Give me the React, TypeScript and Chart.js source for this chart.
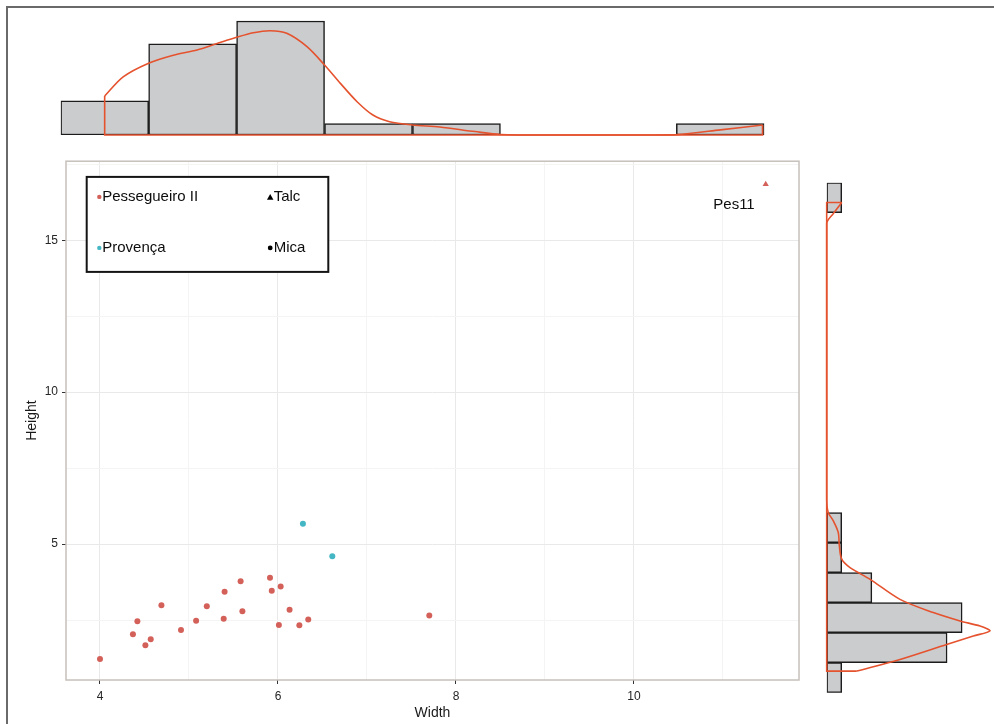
import React, { useEffect, useRef } from 'react';
import { Chart, registerables } from 'chart.js';

Chart.register(...registerables);

// ---------------- data ----------------
// Scatter: Pessegueiro II samples (mica, circles)
const PES_MICA_WIDTH = [4.0, 4.37, 4.42, 4.51, 4.57, 4.69, 4.91, 5.08, 5.2, 5.39, 5.4, 5.58, 5.6, 5.91, 5.93, 6.03, 6.01, 6.13, 6.24, 6.34, 7.7];
const PES_MICA_HEIGHT = [1.22, 2.03, 2.46, 1.67, 1.87, 2.99, 2.17, 2.48, 2.95, 2.54, 3.43, 3.78, 2.79, 3.89, 3.46, 3.6, 2.34, 2.84, 2.33, 2.52, 2.65];
// Provença samples (mica, circles)
const PROV_MICA_WIDTH = [6.28, 6.61];
const PROV_MICA_HEIGHT = [5.67, 4.6];
// Pessegueiro II talc sample (triangle) with label
const PES_TALC_WIDTH = [11.48];
const PES_TALC_HEIGHT = [16.84];
const PES_TALC_LABELS = ['Pes11'];

// Axis ticks
const X_MAJOR = [4, 6, 8, 10];
const X_MINOR = [5, 7, 9, 11];
const Y_MAJOR = [5, 10, 15];
const Y_MINOR = [2.5, 7.5, 12.5, 17.5];
const X_RANGE = [3.618, 11.854];
const Y_RANGE = [0.526, 17.6];

// Top marginal histogram of Width (bin centers, width 1) and density curve (in count units)
const WIDTH_BIN_CENTERS = [4, 5, 6, 7, 8, 11];
const WIDTH_BIN_COUNTS = [3, 8, 10, 1, 1, 1];
const WIDTH_HIST_RANGE = [3.5, 11.5];
const WIDTH_COUNT_MAX = 11;
const DENS_TOP_X = [4.0, 4.21, 4.5, 4.78, 5.05, 5.27, 5.5, 5.69, 5.88, 6.07, 6.3, 6.5, 6.68, 6.87, 7.05, 7.24, 7.5, 7.81, 8.21, 8.5, 9.06, 10.2, 10.5, 11.0, 11.48];
const DENS_TOP_Y = [3.42, 5.1, 6.3, 7.0, 7.46, 8.0, 8.57, 8.97, 9.15, 8.92, 7.75, 6.14, 4.53, 2.92, 1.75, 1.17, 0.88, 0.7, 0.3, 0.05, 0, 0, 0.03, 0.45, 0.88];

// Right marginal histogram of Height and density curve
const HEIGHT_BIN_CENTERS = [1, 2, 3, 4, 5, 6, 17];
const HEIGHT_BIN_COUNTS = [1, 8, 9, 3, 1, 1, 1];
const HEIGHT_HIST_RANGE = [0.5, 17.5];
const HEIGHT_COUNT_MAX = 11;
const DENS_RIGHT_Y = [1.22, 1.61, 2.11, 2.39, 2.56, 2.72, 2.89, 3.17, 3.61, 4.28, 4.67, 4.95, 5.4, 5.84, 6.23, 6.51, 6.95, 16.14, 16.47, 16.84];
const DENS_RIGHT_W = [2.0, 4.87, 7.97, 9.74, 10.85, 10.19, 8.86, 7.08, 4.87, 2.88, 1.55, 1.0, 0.84, 0.77, 0.44, 0.1, 0, 0, 0.44, 1.0];

// ---------------- styles ----------------
const FONT = "'Liberation Sans', Arial, Helvetica, sans-serif";
const RED = '#d4605a';
const CYAN = '#45b6c4';
const DENS = '#e5522e';
const HIST_FILL = '#cbccce';
const HIST_EDGE = '#1c1c1c';
const GRID_MAJOR = '#e9e9e9';
const GRID_MINOR = '#f4f4f4';
const PANEL_BORDER = '#c6c0ba';
const TICK_TEXT = '#262626';
const TITLE_TEXT = '#1a1a1a';

Chart.defaults.font.family = FONT;

const drawTriangle = (ctx: CanvasRenderingContext2D, x: number, y: number, r: number) => {
  ctx.beginPath();
  ctx.moveTo(x, y - r);
  ctx.lineTo(x + r * 0.95, y + r * 0.7);
  ctx.lineTo(x - r * 0.95, y + r * 0.7);
  ctx.closePath();
  ctx.fill();
};

const panelPlugin = {
  id: 'panelDecor',
  afterDatasetsDraw(chart: any) {
    const { ctx, chartArea: a } = chart;
    ctx.save();
    // panel border
    ctx.strokeStyle = PANEL_BORDER;
    ctx.lineWidth = 1.5;
    ctx.strokeRect(a.left, a.top, a.right - a.left, a.bottom - a.top);

    // point label
    const meta = chart.getDatasetMeta(2);
    meta.data.forEach((el: any, i: number) => {
      ctx.fillStyle = '#0d0d0d';
      ctx.font = `15px ${FONT}`;
      ctx.textAlign = 'right';
      ctx.textBaseline = 'middle';
      ctx.fillText(PES_TALC_LABELS[i], el.x - 11, el.y + 21);
    });

    // legend box
    const bx = a.left + 20.7;
    const by = a.top + 15.7;
    const bw = 241.6;
    const bh = 95;
    ctx.fillStyle = '#ffffff';
    ctx.fillRect(bx, by, bw, bh);
    ctx.strokeStyle = '#141414';
    ctx.lineWidth = 2;
    ctx.strokeRect(bx, by, bw, bh);

    const row1 = by + 20;
    const row2 = by + 71;
    const c1m = bx + 12.6;
    const c1t = bx + 15.5;
    const c2m = bx + 183.5;
    const c2t = bx + 187;
    ctx.font = `15px ${FONT}`;
    ctx.textAlign = 'left';
    ctx.textBaseline = 'middle';
    ctx.fillStyle = RED;
    ctx.beginPath(); ctx.arc(c1m, row1, 2.2, 0, Math.PI * 2); ctx.fill();
    ctx.fillStyle = CYAN;
    ctx.beginPath(); ctx.arc(c1m, row2, 2.2, 0, Math.PI * 2); ctx.fill();
    ctx.fillStyle = '#000';
    drawTriangle(ctx, c2m, row1 + 0.5, 3.4);
    ctx.beginPath(); ctx.arc(c2m, row2, 2.4, 0, Math.PI * 2); ctx.fill();
    ctx.fillStyle = '#0d0d0d';
    ctx.fillText('Pessegueiro II', c1t, row1);
    ctx.fillText('Provença', c1t, row2);
    ctx.fillText('Talc', c2t, row1);
    ctx.fillText('Mica', c2t, row2);
    ctx.restore();
  },
};

const toPts = (xs: number[], ys: number[]) => xs.map((x, i) => ({ x, y: ys[i] }));

export default function App() {
  const mainRef = useRef<HTMLCanvasElement>(null);
  const topRef = useRef<HTMLCanvasElement>(null);
  const rightRef = useRef<HTMLCanvasElement>(null);

  useEffect(() => {
    const charts: Chart[] = [];
    const allX = [...X_MAJOR, ...X_MINOR].sort((a, b) => a - b);
    const allY = [...Y_MAJOR, ...Y_MINOR].sort((a, b) => a - b);

    // ---------- scatter ----------
    charts.push(
      new Chart(mainRef.current!, {
        type: 'scatter',
        data: {
          datasets: [
            {
              label: 'Pessegueiro II – Mica',
              data: toPts(PES_MICA_WIDTH, PES_MICA_HEIGHT),
              backgroundColor: RED,
              borderWidth: 0,
              pointRadius: 3,
              pointStyle: 'circle',
            },
            {
              label: 'Provença – Mica',
              data: toPts(PROV_MICA_WIDTH, PROV_MICA_HEIGHT),
              backgroundColor: CYAN,
              borderWidth: 0,
              pointRadius: 3,
              pointStyle: 'circle',
            },
            {
              label: 'Pessegueiro II – Talc',
              data: toPts(PES_TALC_WIDTH, PES_TALC_HEIGHT),
              backgroundColor: RED,
              borderWidth: 0,
              pointRadius: 3.6,
              pointStyle: 'triangle',
            },
          ],
        },
        options: {
          animation: false,
          responsive: false,
          maintainAspectRatio: false,
          layout: { padding: { top: 11, right: 11, left: 0, bottom: 0 } },
          plugins: { legend: { display: false }, tooltip: { enabled: false } },
          scales: {
            x: {
              type: 'linear',
              min: X_RANGE[0],
              max: X_RANGE[1],
              afterFit: (s: any) => { s.height = 44; },
              afterBuildTicks: (s: any) => { s.ticks = allX.map((v) => ({ value: v })); },
              ticks: {
                autoSkip: false,
                maxRotation: 0,
                padding: 5,
                color: TICK_TEXT,
                font: { size: 12 },
                callback: (v: any) => (X_MAJOR.includes(Number(v)) ? String(v) : ''),
              },
              grid: {
                color: (c: any) => (X_MAJOR.includes(c.tick?.value) ? GRID_MAJOR : GRID_MINOR),
                tickColor: (c: any) => (X_MAJOR.includes(c.tick?.value) ? '#333' : 'rgba(0,0,0,0)'),
                tickLength: 4,
                lineWidth: 1,
              },
              border: { display: false },
              title: {
                display: true,
                text: 'Width',
                color: TITLE_TEXT,
                font: { size: 14 },
                padding: { top: 0, bottom: 2.6 },
              },
            },
            y: {
              type: 'linear',
              min: Y_RANGE[0],
              max: Y_RANGE[1],
              afterFit: (s: any) => { s.width = 66; },
              afterBuildTicks: (s: any) => { s.ticks = allY.map((v) => ({ value: v })); },
              ticks: {
                autoSkip: false,
                padding: 4,
                color: TICK_TEXT,
                font: { size: 12 },
                callback: (v: any) => (Y_MAJOR.includes(Number(v)) ? String(v) : ''),
              },
              grid: {
                color: (c: any) => (Y_MAJOR.includes(c.tick?.value) ? GRID_MAJOR : GRID_MINOR),
                tickColor: (c: any) => (Y_MAJOR.includes(c.tick?.value) ? '#333' : 'rgba(0,0,0,0)'),
                tickLength: 4,
                lineWidth: 1,
              },
              border: { display: false },
              title: {
                display: true,
                text: 'Height',
                color: TITLE_TEXT,
                font: { size: 14 },
                padding: { top: 23.6, bottom: 0 },
              },
            },
          },
        },
        plugins: [panelPlugin],
      } as any)
    );

    // ---------- top marginal ----------
    const tl = DENS_TOP_X.length - 1;
    charts.push(
      new Chart(topRef.current!, {
        type: 'bar',
        data: {
          datasets: [
            {
              type: 'line',
              data: toPts(DENS_TOP_X, DENS_TOP_Y),
              borderColor: DENS,
              borderWidth: 1.6,
              pointRadius: 0,
              tension: 0.3,
              fill: false,
              clip: false,
              order: 0,
            },
            {
              type: 'line',
              data: [
                { x: DENS_TOP_X[0], y: DENS_TOP_Y[0] },
                { x: DENS_TOP_X[0], y: 0 },
                { x: DENS_TOP_X[tl], y: 0 },
                { x: DENS_TOP_X[tl], y: DENS_TOP_Y[tl] },
              ],
              borderColor: DENS,
              borderWidth: 1.6,
              pointRadius: 0,
              tension: 0,
              fill: false,
              clip: false,
              order: 0,
            },
            {
              type: 'bar',
              data: toPts(WIDTH_BIN_CENTERS, WIDTH_BIN_COUNTS),
              backgroundColor: HIST_FILL,
              borderColor: HIST_EDGE,
              borderWidth: 1.5,
              borderSkipped: false,
              barPercentage: 1,
              categoryPercentage: 1,
              order: 1,
            },
          ],
        },
        options: {
          animation: false,
          responsive: false,
          maintainAspectRatio: false,
          layout: { padding: { left: 60.7, right: 45.7, top: 9.6, bottom: 15 } },
          plugins: { legend: { display: false }, tooltip: { enabled: false } },
          scales: {
            x: {
              type: 'linear',
              display: false,
              offset: false,
              min: WIDTH_HIST_RANGE[0],
              max: WIDTH_HIST_RANGE[1],
              afterBuildTicks: (s: any) => { s.ticks = WIDTH_BIN_CENTERS.map((v) => ({ value: v })); },
            },
            y: { type: 'linear', display: false, offset: false, min: 0, max: WIDTH_COUNT_MAX },
          },
        },
      } as any)
    );

    // ---------- right marginal ----------
    const rl = DENS_RIGHT_Y.length - 1;
    charts.push(
      new Chart(rightRef.current!, {
        type: 'bar',
        data: {
          datasets: [
            {
              type: 'line',
              data: toPts(DENS_RIGHT_W, DENS_RIGHT_Y),
              borderColor: DENS,
              borderWidth: 1.6,
              pointRadius: 0,
              tension: 0.3,
              fill: false,
              clip: false,
              order: 0,
            },
            {
              type: 'line',
              data: [
                { x: DENS_RIGHT_W[0], y: DENS_RIGHT_Y[0] },
                { x: 0, y: DENS_RIGHT_Y[0] },
                { x: 0, y: DENS_RIGHT_Y[rl] },
                { x: DENS_RIGHT_W[rl], y: DENS_RIGHT_Y[rl] },
              ],
              borderColor: DENS,
              borderWidth: 1.6,
              pointRadius: 0,
              tension: 0,
              fill: false,
              clip: false,
              order: 0,
            },
            {
              type: 'bar',
              indexAxis: 'y',
              data: HEIGHT_BIN_CENTERS.map((y, i) => ({ x: HEIGHT_BIN_COUNTS[i], y })),
              backgroundColor: HIST_FILL,
              borderColor: HIST_EDGE,
              borderWidth: 1.5,
              borderSkipped: false,
              barPercentage: 1,
              categoryPercentage: 1,
              order: 1,
            },
          ],
        },
        options: {
          animation: false,
          responsive: false,
          maintainAspectRatio: false,
          layout: { padding: { left: 16.7, right: 1.75, top: 32.7, bottom: 31.3 } },
          plugins: { legend: { display: false }, tooltip: { enabled: false } },
          scales: {
            x: { type: 'linear', display: false, offset: false, min: 0, max: HEIGHT_COUNT_MAX },
            y: {
              type: 'linear',
              display: false,
              offset: false,
              min: HEIGHT_HIST_RANGE[0],
              max: HEIGHT_HIST_RANGE[1],
              afterBuildTicks: (s: any) => { s.ticks = HEIGHT_BIN_CENTERS.map((v) => ({ value: v })); },
            },
          },
        },
      } as any)
    );

    return () => charts.forEach((c) => c.destroy());
  }, []);

  return (
    <div style={{ position: 'absolute', left: 0, top: 0, width: 994, height: 724, overflow: 'hidden', background: '#fff' }}>
      <canvas ref={topRef} width={810} height={150} style={{ position: 'absolute', left: 0, top: 0, width: 810, height: 150 }} />
      <canvas ref={mainRef} width={810} height={574} style={{ position: 'absolute', left: 0, top: 150, width: 810, height: 574 }} />
      <canvas ref={rightRef} width={184} height={574} style={{ position: 'absolute', left: 810, top: 150, width: 184, height: 574 }} />
      <div
        style={{
          position: 'absolute',
          left: 6,
          top: 6,
          width: 1000,
          height: 730,
          borderTop: '2px solid #6a6a6a',
          borderLeft: '2px solid #6a6a6a',
          pointerEvents: 'none',
        }}
      />
    </div>
  );
}
